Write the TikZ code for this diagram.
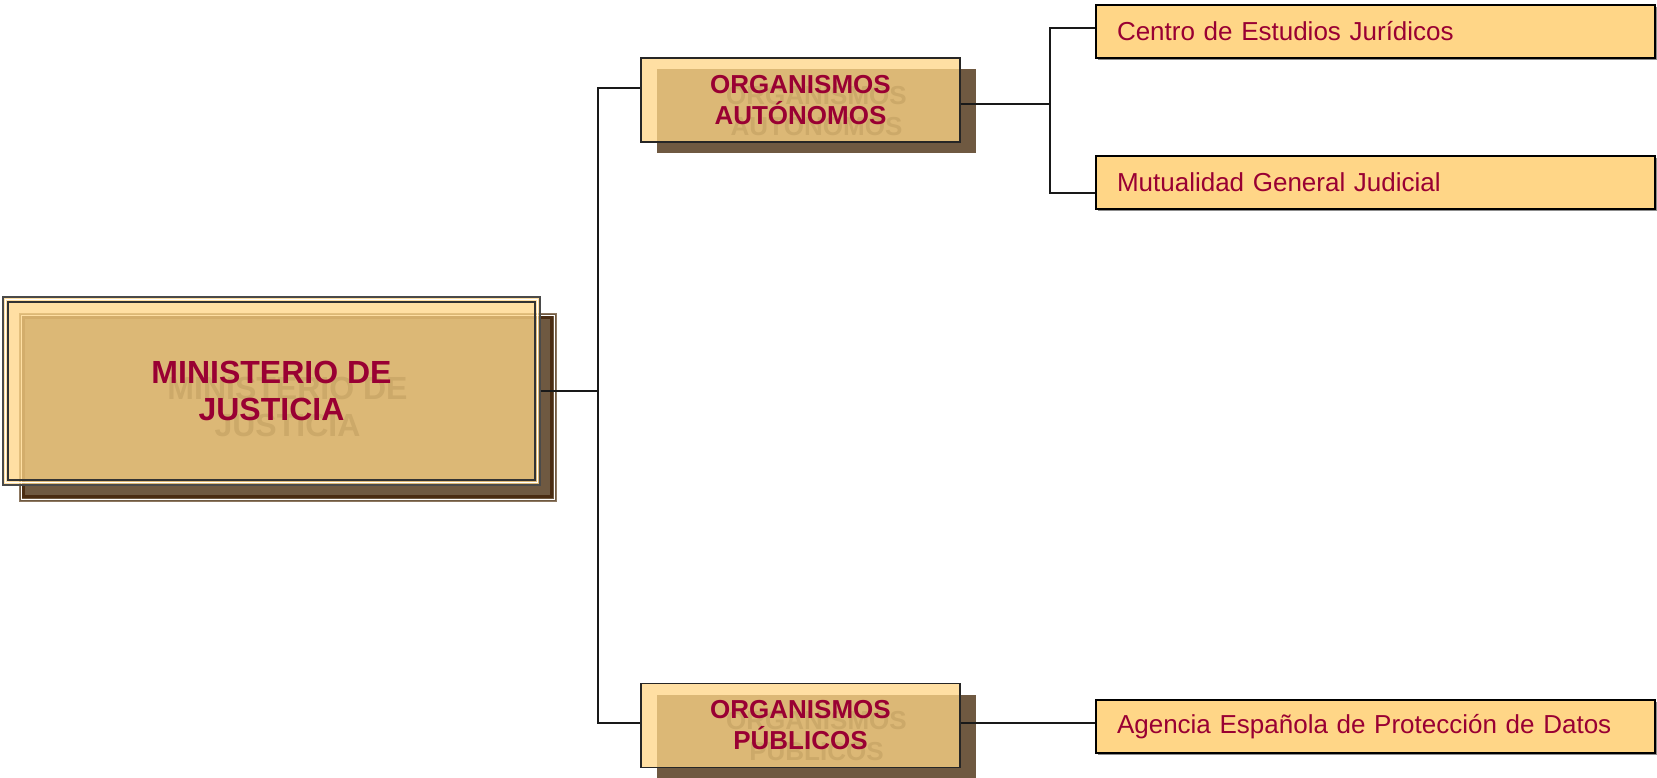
\documentclass[tikz,border=0pt]{standalone}
\usepackage{fontspec}
\setmainfont{Liberation Sans}
\usetikzlibrary{shadows}
\definecolor{crim}{HTML}{990033}
\definecolor{paleY}{HTML}{FFD687}
\definecolor{shadowB}{HTML}{6F5941}
\definecolor{shadowL}{HTML}{8C7760}
\definecolor{shadowD}{HTML}{4A2C12}
\definecolor{ghostT}{HTML}{2A1A0A}
\definecolor{frameG}{HTML}{4A4A4A}
\begin{document}
\begin{tikzpicture}[x=1pt,y=-1pt,
  conn/.style={draw=black!90, line width=1.7pt},
  shadowbox/.style={fill=shadowB, draw=none, inner sep=0pt, align=center, text=ghostT},
  frontbox/.style={fill=paleY, fill opacity=0.76, text opacity=1, draw=black!85, line width=1.2pt, inner sep=0pt, align=center, text=crim},
  orgsize/.style={minimum width=319pt, minimum height=84pt, font=\fontsize{26}{31}\selectfont\bfseries},
  mainsize/.style={minimum width=537pt, minimum height=188pt, font=\fontsize{32}{37}\selectfont\bfseries},
  leafbox/.style={fill=paleY, draw=black, line width=1.3pt, minimum height=53pt, text width=517pt, inner xsep=21pt, inner ysep=0pt, align=left, text=crim, font=\fontsize{26}{30}\selectfont, drop shadow={shadow xshift=2pt, shadow yshift=-2pt, fill=black!45, opacity=1}}
]
\clip (0,0) rectangle (1657,777);
\fill[white] (0,0) rectangle (1657,777);

% main box: shadow layer
\node[shadowbox, mainsize, draw=shadowL, line width=1pt] (mainS) at (287.5,407) {MINISTERIO DE\\JUSTICIA};
\draw[white, line width=1pt] ([shift={(2.5,2.5)}]mainS.north west) rectangle ([shift={(-2.5,-2.5)}]mainS.south east);
\draw[shadowD, line width=2.2pt] ([shift={(5,5)}]mainS.north west) rectangle ([shift={(-5,-5)}]mainS.south east);
% main box: front layer
\node[frontbox, mainsize, draw=frameG, line width=1.5pt] (main) at (271.5,391) {MINISTERIO DE\\JUSTICIA};
\draw[white, line width=1pt] ([shift={(2.8,2.8)}]main.north west) rectangle ([shift={(-2.8,-2.8)}]main.south east);
\draw[black!80, line width=1.5pt] ([shift={(5.8,5.8)}]main.north west) rectangle ([shift={(-5.8,-5.8)}]main.south east);

% organismos
\node[shadowbox, orgsize] (autS) at (816.5,111) {ORGANISMOS\\AUTÓNOMOS};
\node[frontbox, orgsize] (aut) at (800.5,100) {ORGANISMOS\\AUTÓNOMOS};
\node[shadowbox, orgsize] (pubS) at (816.5,736.5) {ORGANISMOS\\PÚBLICOS};
\node[frontbox, orgsize] (pub) at (800.5,725.5) {ORGANISMOS\\PÚBLICOS};

% leaves
\node[leafbox] (centro) at (1375.5,31.5) {Centro de Estudios Jurídicos};
\node[leafbox] (mutual) at (1375.5,182.5) {Mutualidad General Judicial};
\node[leafbox] (agencia) at (1375.5,726.5) {Agencia Española de Protección de Datos};

% connectors
\draw[conn] (main.east) -- ++(57,0) |- ([yshift=12pt]aut.west);
\draw[conn] (main.east) -- ++(57,0) |- ([yshift=2.5pt]pub.west);
\draw[conn] ([yshift=-4pt]aut.east) -- ++(89.5,0) |- ([yshift=3.5pt]centro.west);
\draw[conn] ([yshift=-4pt]aut.east) -- ++(89.5,0) |- ([yshift=-10.5pt]mutual.west);
\draw[conn] ([yshift=2.5pt]pub.east) -- ([yshift=2.5pt]pub.east -| agencia.west);
\end{tikzpicture}
\end{document}
